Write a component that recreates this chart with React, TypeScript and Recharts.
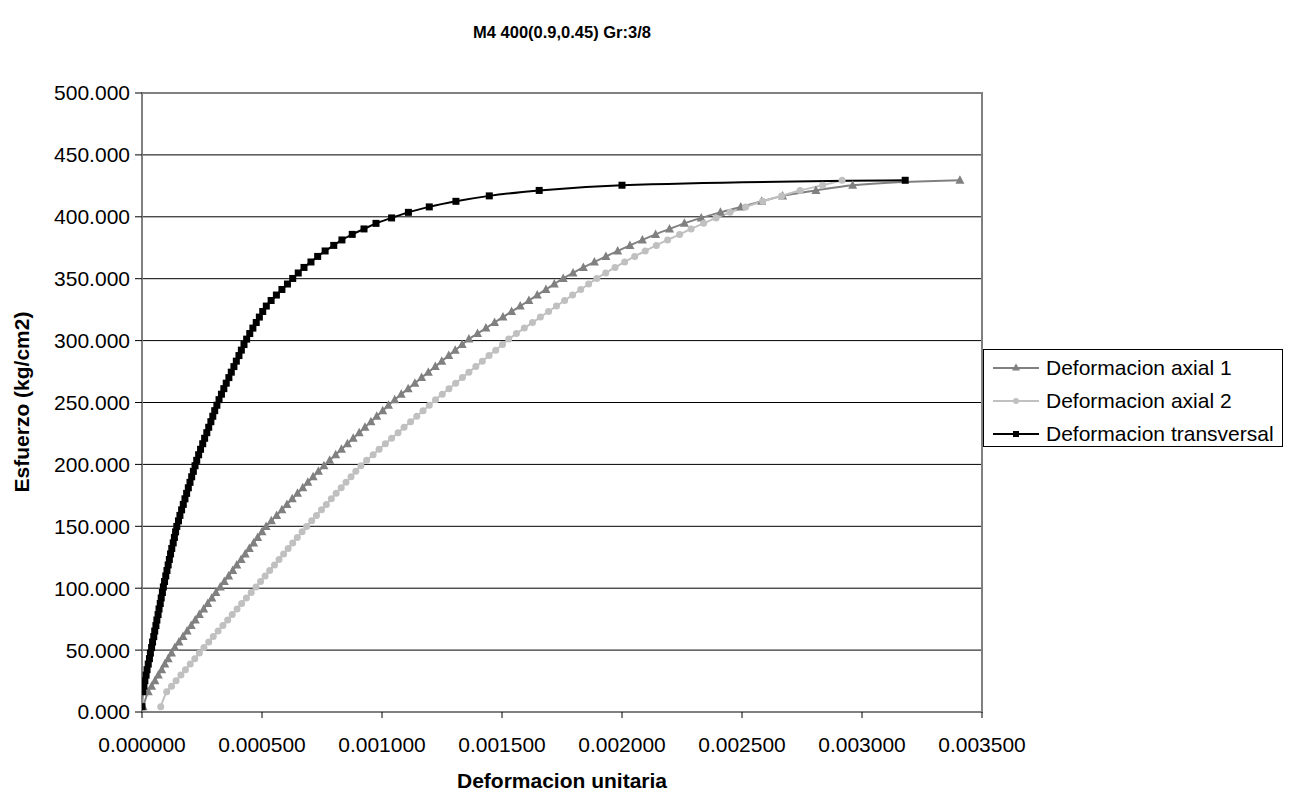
import React from "react"
import { LineChart, Line, XAxis, YAxis, CartesianGrid, ReferenceArea } from "recharts"

// stress levels (kg/cm2), shared by the three gauges
const stress = [
  4.3, 16.4, 20.9, 25.3, 29.8, 34.2, 38.7, 43.1, 47.6, 52.0,
  56.5, 60.9, 65.4, 69.8, 74.3, 78.7, 83.2, 87.6, 92.1, 96.5,
  101.0, 105.4, 109.9, 114.3, 118.8, 123.2, 127.7, 132.1, 136.6, 141.0,
  145.5, 149.9, 154.4, 158.8, 163.3, 167.7, 172.2, 176.6, 181.1, 185.5,
  190.0, 194.4, 198.9, 203.3, 207.8, 212.2, 216.7, 221.1, 225.6, 230.0,
  234.5, 238.9, 243.4, 247.8, 252.3, 256.7, 261.2, 265.6, 270.1, 274.5,
  279.0, 283.4, 287.9, 292.3, 296.8, 301.2, 305.7, 310.1, 314.6, 319.0,
  323.5, 327.9, 332.4, 336.8, 341.3, 345.7, 350.2, 354.6, 359.1, 363.5,
  368.0, 372.4, 376.9, 381.3, 385.8, 390.2, 394.7, 399.1, 403.6, 408.0,
  412.5, 416.9, 421.3, 425.5, 429.5,
]

// strains in microstrain (x 1e-6)
const axial1 = [
  5, 26, 40, 54, 68, 82, 95, 109, 123, 137,
  154, 171, 188, 205, 222, 239, 257, 274, 291, 308,
  326, 343, 361, 378, 395, 413, 430, 447, 465, 482,
  500, 517, 539, 561, 583, 604, 626, 648, 670, 691,
  713, 735, 758, 782, 807, 831, 856, 880, 905, 929,
  954, 978, 1003, 1027, 1053, 1080, 1109, 1137, 1165, 1193,
  1222, 1249, 1278, 1305, 1334, 1362, 1398, 1433, 1469, 1504,
  1540, 1576, 1612, 1647, 1683, 1718, 1755, 1796, 1839, 1885,
  1933, 1982, 2033, 2085, 2140, 2198, 2260, 2330, 2410, 2495,
  2582, 2669, 2808, 2961, 3408,
]

const axial2 = [
  78, 103, 123, 142, 162, 181, 201, 220, 239, 258,
  278, 297, 317, 337, 357, 376, 396, 415, 435, 455,
  475, 494, 513, 532, 552, 571, 590, 609, 628, 647,
  667, 686, 707, 727, 748, 768, 789, 809, 830, 850,
  871, 891, 912, 936, 963, 988, 1014, 1040, 1067, 1092,
  1119, 1145, 1171, 1197, 1223, 1251, 1279, 1307, 1335, 1362,
  1391, 1418, 1446, 1474, 1502, 1528, 1560, 1593, 1627, 1660,
  1694, 1727, 1761, 1794, 1828, 1861, 1895, 1932, 1971, 2011,
  2053, 2097, 2143, 2190, 2240, 2288, 2340, 2392, 2450, 2515,
  2586, 2665, 2742, 2836, 2917,
]

const transversal = [
  0, 3, 8, 12, 17, 21, 26, 31, 35, 40,
  44, 49, 53, 58, 62, 67, 71, 76, 80, 85,
  89, 94, 99, 104, 109, 114, 119, 124, 130, 135,
  140, 145, 152, 158, 165, 172, 179, 186, 193, 200,
  207, 214, 221, 228, 236, 244, 253, 261, 270, 278,
  287, 295, 303, 312, 321, 331, 341, 351, 362, 372,
  383, 393, 404, 414, 425, 436, 449, 462, 476, 489,
  503, 518, 538, 560, 583, 606, 628, 651, 675, 704,
  732, 763, 799, 833, 876, 925, 975, 1040, 1110, 1197,
  1308, 1447, 1655, 2000, 3180,
]

const xTicks = [0, 0.0005, 0.001, 0.0015, 0.002, 0.0025, 0.003, 0.0035]
const yTicks = [0, 50, 100, 150, 200, 250, 300, 350, 400, 450, 500]

const FONT = "'Liberation Sans', Arial, sans-serif"

const toPoints = (strain: number[]) => strain.map((e, i) => ({ x: e / 1e6, y: stress[i] }))

const TriangleDot = (props: any) => {
  const { cx, cy, index } = props
  if (cx == null || cy == null) return <g key={`t-${index}`} />
  return (
    <polygon
      key={`t-${index}`}
      points={`${cx},${cy - 5} ${cx - 4.5},${cy + 3.5} ${cx + 4.5},${cy + 3.5}`}
      fill="#808080"
    />
  )
}

const CircleDot = (props: any) => {
  const { cx, cy, index } = props
  if (cx == null || cy == null) return <g key={`c-${index}`} />
  return <circle key={`c-${index}`} cx={cx} cy={cy} r={3.5} fill="#C0C0C0" />
}

const SquareDot = (props: any) => {
  const { cx, cy, index } = props
  if (cx == null || cy == null) return <g key={`s-${index}`} />
  return <rect key={`s-${index}`} x={cx - 3.5} y={cy - 3.5} width={7} height={7} fill="#000" />
}

const legendItems = [
  { name: "Deformacion axial 1", color: "#808080", marker: "triangle" },
  { name: "Deformacion axial 2", color: "#C0C0C0", marker: "circle" },
  { name: "Deformacion transversal", color: "#000000", marker: "square" },
]

function LegendIcon({ color, marker }: { color: string; marker: string }) {
  return (
    <svg width={48} height={12} style={{ marginRight: 6, flex: "none" }}>
      <line x1={1} y1={6} x2={47} y2={6} stroke={color} strokeWidth={2} />
      {marker === "triangle" && <polygon points="24,1.5 20,8.5 28,8.5" fill={color} />}
      {marker === "circle" && <circle cx={24} cy={6} r={3} fill={color} />}
      {marker === "square" && <rect x={21} y={3} width={6} height={6} fill={color} />}
    </svg>
  )
}

export default function App() {
  const data1 = toPoints(axial1)
  const data2 = toPoints(axial2)
  const data3 = toPoints(transversal)

  return (
    <div style={{ position: "absolute", left: 0, top: 0, width: 1299, height: 796, background: "#fff", fontFamily: FONT }}>
      <div style={{ position: "absolute", left: 362, width: 400, top: 23, textAlign: "center", fontWeight: "bold", fontSize: 16.5 }}>
        M4 400(0.9,0.45) Gr:3/8
      </div>

      <LineChart
        width={1299}
        height={796}
        margin={{ top: 93, right: 317, bottom: 24, left: 42 }}
      >
        <CartesianGrid horizontal vertical={false} stroke="#000" strokeWidth={1} />
        <XAxis
          type="number"
          dataKey="x"
          domain={[0, 0.0035]}
          ticks={xTicks}
          allowDataOverflow
          height={60}
          tickFormatter={(v: number) => v.toFixed(6)}
          tick={{ fill: "#000", fontSize: 21, fontFamily: FONT }}
          tickSize={6}
          tickMargin={19}
          tickLine={{ stroke: "#000" }}
          axisLine={{ stroke: "#808080", strokeWidth: 2 }}
        />
        <YAxis
          type="number"
          dataKey="y"
          domain={[0, 500]}
          ticks={yTicks}
          width={100}
          tickFormatter={(v: number) => v.toFixed(3)}
          tick={{ fill: "#000", fontSize: 21, fontFamily: FONT }}
          tickSize={7}
          tickMargin={5}
          tickLine={{ stroke: "#000" }}
          axisLine={{ stroke: "#808080", strokeWidth: 2 }}
        />
        <ReferenceArea x1={0} x2={0.0035} y1={0} y2={500} fill="none" stroke="#808080" strokeWidth={2} ifOverflow="visible" />
        <Line
          data={data1}
          dataKey="y"
          name="Deformacion axial 1"
          type="monotone"
          stroke="#808080"
          strokeWidth={2}
          dot={TriangleDot}
          activeDot={false}
          isAnimationActive={false}
        />
        <Line
          data={data2}
          dataKey="y"
          name="Deformacion axial 2"
          type="monotone"
          stroke="#C0C0C0"
          strokeWidth={2}
          dot={CircleDot}
          activeDot={false}
          isAnimationActive={false}
        />
        <Line
          data={data3}
          dataKey="y"
          name="Deformacion transversal"
          type="monotone"
          stroke="#000"
          strokeWidth={2}
          dot={SquareDot}
          activeDot={false}
          isAnimationActive={false}
        />
      </LineChart>

      <div style={{ position: "absolute", left: 312, width: 500, top: 769, textAlign: "center", fontWeight: "bold", fontSize: 21 }}>
        Deformacion unitaria
      </div>
      <div
        style={{
          position: "absolute",
          left: 22,
          top: 402,
          transform: "translate(-50%, -50%) rotate(-90deg)",
          whiteSpace: "nowrap",
          fontWeight: "bold",
          fontSize: 21,
        }}
      >
        Esfuerzo (kg/cm2)
      </div>

      <div
        style={{
          position: "absolute",
          left: 983,
          top: 349,
          width: 300,
          height: 98,
          border: "1px solid #000",
          padding: "1px 0 0 8px",
          boxSizing: "border-box",
          fontSize: 21,
          whiteSpace: "nowrap",
        }}
      >
        {legendItems.map((it) => (
          <div key={it.name} style={{ display: "flex", alignItems: "center", height: 33, lineHeight: "33px" }}>
            <LegendIcon color={it.color} marker={it.marker} />
            <span>{it.name}</span>
          </div>
        ))}
      </div>
    </div>
  )
}
